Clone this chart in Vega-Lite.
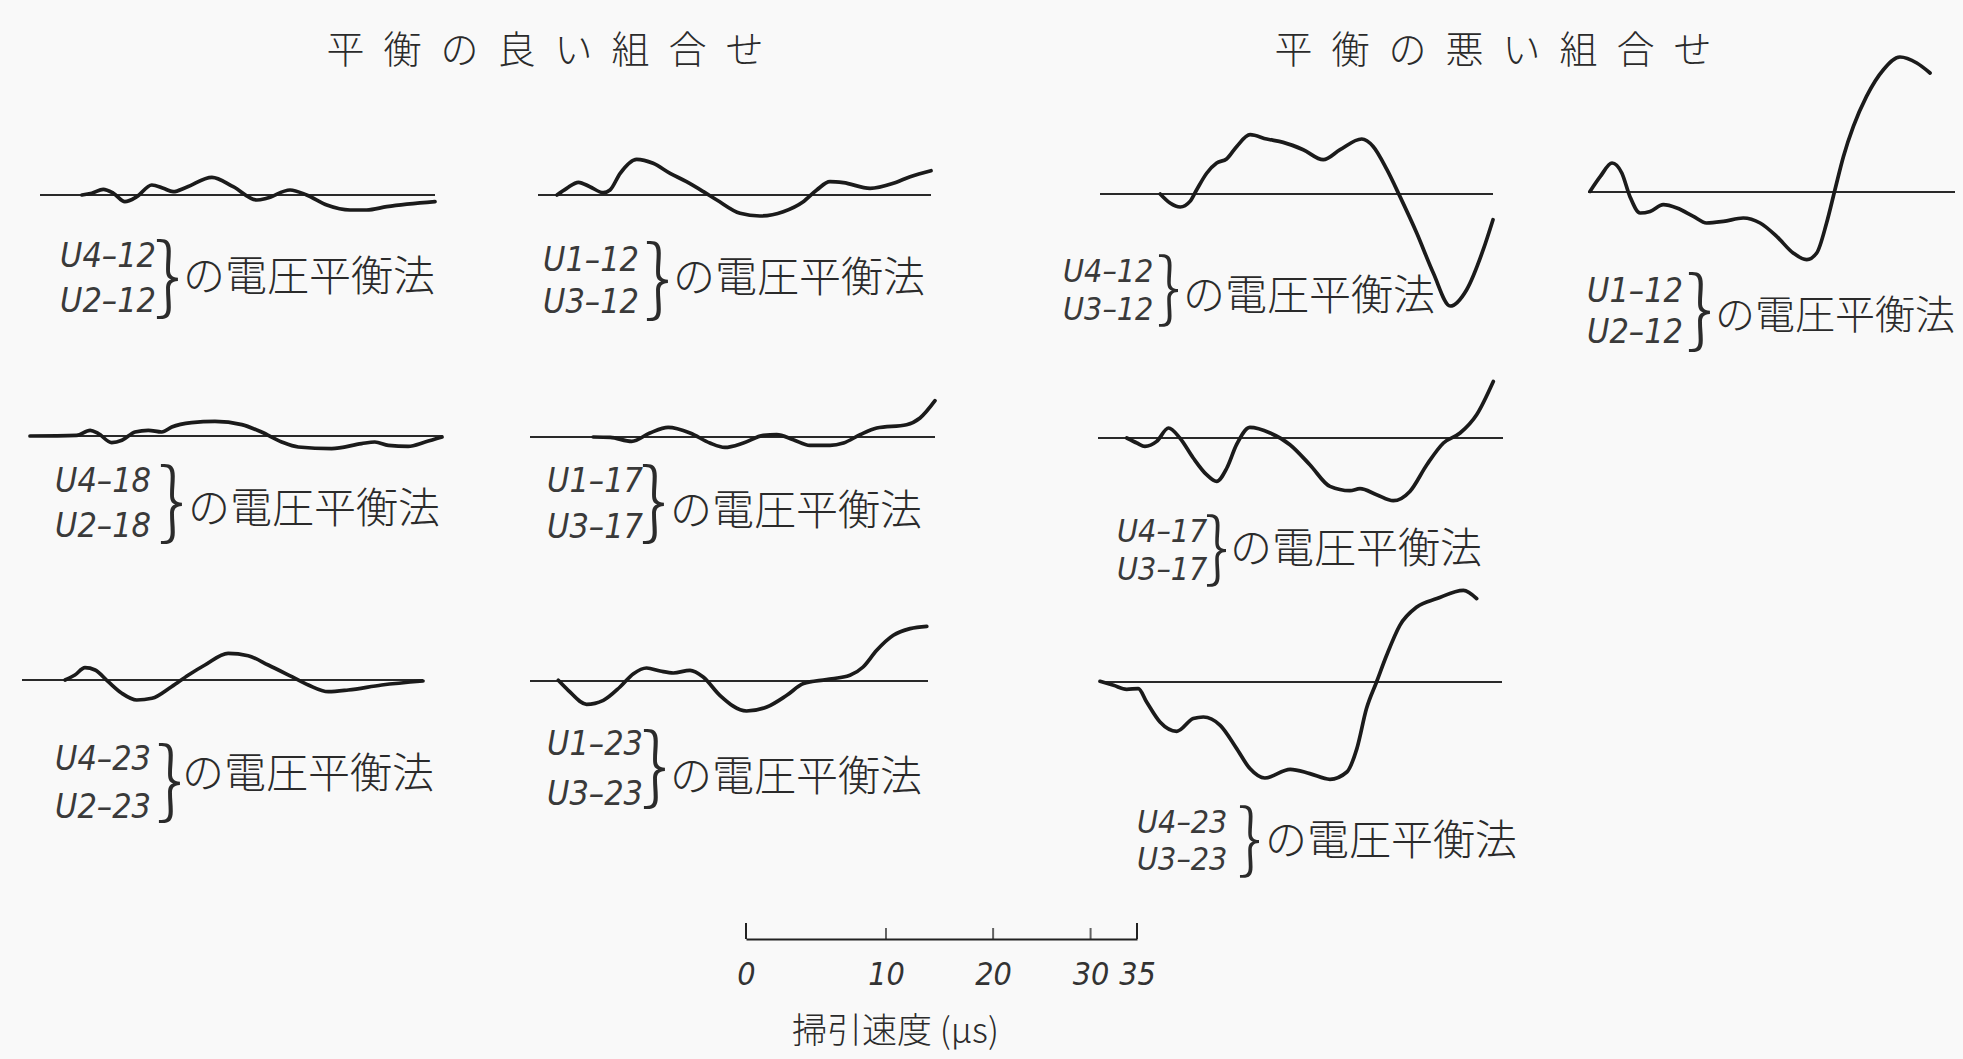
{
  "$schema": "https://vega.github.io/schema/vega-lite/v6.json",
  "background": "#f9f9f9",
  "padding": {"left": 0, "top": 0, "right": 0, "bottom": 14},
  "columns": 4,
  "spacing": 0,
  "bounds": "flush",
  "config": {
    "view": {"stroke": null},
    "concat": {"spacing": 0},
    "style": {
      "code": {"font": "'Liberation Sans Narrow', 'DejaVu Sans Condensed', 'Liberation Sans', sans-serif", "fontStyle": "italic", "fontSize": 34, "align": "left", "baseline": "middle", "color": "#3a3a3a"},
      "brace": {"font": "Noto Sans CJK JP", "fontWeight": 300, "fontSize": 84, "align": "center", "baseline": "middle", "color": "#2b2b2b"},
      "jp": {"font": "Noto Sans CJK JP", "fontSize": 42, "fontWeight": 300, "align": "left", "baseline": "middle", "color": "#2b2b2b"},
      "heading": {"font": "Noto Sans CJK JP", "fontSize": 38, "fontWeight": 300, "align": "center", "baseline": "middle", "color": "#2b2b2b"},
      "wave": {"color": "#1b1b1b", "strokeWidth": 3.7, "strokeCap": "round", "strokeJoin": "round"},
      "baseline0": {"color": "#2a2a2a", "strokeWidth": 1.8}
    }
  },
  "datasets": {
    "waves": [
      {"p": "U4-12/U2-12", "t": 2.27, "v": 0}, {"p": "U4-12/U2-12", "t": 2.94, "v": 1.7}, {"p": "U4-12/U2-12", "t": 3.75, "v": 5.7}, {"p": "U4-12/U2-12", "t": 4.5, "v": 1.7}, {"p": "U4-12/U2-12", "t": 5.37, "v": -6.7}, {"p": "U4-12/U2-12", "t": 6.3, "v": -1.7}, {"p": "U4-12/U2-12", "t": 7.51, "v": 10}, {"p": "U4-12/U2-12", "t": 8.46, "v": 6.7}, {"p": "U4-12/U2-12", "t": 9.29, "v": 3.3}, {"p": "U4-12/U2-12", "t": 10.44, "v": 7.7}, {"p": "U4-12/U2-12", "t": 12.69, "v": 17.7}, {"p": "U4-12/U2-12", "t": 14.63, "v": 8.3}, {"p": "U4-12/U2-12", "t": 16.84, "v": -5}, {"p": "U4-12/U2-12", "t": 17.78, "v": -3.3}, {"p": "U4-12/U2-12", "t": 20.04, "v": 5}, {"p": "U4-12/U2-12", "t": 21.67, "v": 0}, {"p": "U4-12/U2-12", "t": 23.69, "v": -10}, {"p": "U4-12/U2-12", "t": 26.05, "v": -15}, {"p": "U4-12/U2-12", "t": 27.76, "v": -15}, {"p": "U4-12/U2-12", "t": 29.86, "v": -11.7}, {"p": "U4-12/U2-12", "t": 35, "v": -6.7},

      {"p": "U4-18/U2-18", "t": 0, "v": 0}, {"p": "U4-18/U2-18", "t": 2.45, "v": 0.7}, {"p": "U4-18/U2-18", "t": 3.35, "v": 5.7}, {"p": "U4-18/U2-18", "t": 3.92, "v": 2.4}, {"p": "U4-18/U2-18", "t": 4.86, "v": -6.6}, {"p": "U4-18/U2-18", "t": 5.62, "v": -4.3}, {"p": "U4-18/U2-18", "t": 6.61, "v": 4}, {"p": "U4-18/U2-18", "t": 7.64, "v": 5.7}, {"p": "U4-18/U2-18", "t": 8.72, "v": 4}, {"p": "U4-18/U2-18", "t": 9.53, "v": 9}, {"p": "U4-18/U2-18", "t": 11.17, "v": 13.4}, {"p": "U4-18/U2-18", "t": 13.18, "v": 14.7}, {"p": "U4-18/U2-18", "t": 15.55, "v": 11.4}, {"p": "U4-18/U2-18", "t": 17.33, "v": 4}, {"p": "U4-18/U2-18", "t": 19.19, "v": -6}, {"p": "U4-18/U2-18", "t": 20.74, "v": -11}, {"p": "U4-18/U2-18", "t": 23.93, "v": -12.6}, {"p": "U4-18/U2-18", "t": 26.86, "v": -7.6}, {"p": "U4-18/U2-18", "t": 28.17, "v": -6}, {"p": "U4-18/U2-18", "t": 29.53, "v": -9.3}, {"p": "U4-18/U2-18", "t": 31.53, "v": -10.3}, {"p": "U4-18/U2-18", "t": 33.26, "v": -6}, {"p": "U4-18/U2-18", "t": 35, "v": -1},

      {"p": "U4-23/U2-23", "t": 2.3, "v": 0}, {"p": "U4-23/U2-23", "t": 2.96, "v": 5}, {"p": "U4-23/U2-23", "t": 3.66, "v": 12.3}, {"p": "U4-23/U2-23", "t": 4.39, "v": 10}, {"p": "U4-23/U2-23", "t": 5.37, "v": -1.7}, {"p": "U4-23/U2-23", "t": 6.42, "v": -13.3}, {"p": "U4-23/U2-23", "t": 7.61, "v": -20}, {"p": "U4-23/U2-23", "t": 8.86, "v": -18.3}, {"p": "U4-23/U2-23", "t": 10.51, "v": -6.7}, {"p": "U4-23/U2-23", "t": 11.98, "v": 5}, {"p": "U4-23/U2-23", "t": 13.44, "v": 15}, {"p": "U4-23/U2-23", "t": 15.55, "v": 26.7}, {"p": "U4-23/U2-23", "t": 17.41, "v": 24.3}, {"p": "U4-23/U2-23", "t": 19.31, "v": 15}, {"p": "U4-23/U2-23", "t": 21.59, "v": 3.3}, {"p": "U4-23/U2-23", "t": 23.21, "v": -5}, {"p": "U4-23/U2-23", "t": 25.21, "v": -11.7}, {"p": "U4-23/U2-23", "t": 27.23, "v": -10}, {"p": "U4-23/U2-23", "t": 30.66, "v": -5}, {"p": "U4-23/U2-23", "t": 35, "v": -1},

      {"p": "U1-12/U3-12", "t": 0.87, "v": 0}, {"p": "U1-12/U3-12", "t": 1.44, "v": 6.7}, {"p": "U1-12/U3-12", "t": 2.19, "v": 12.7}, {"p": "U1-12/U3-12", "t": 2.96, "v": 8.3}, {"p": "U1-12/U3-12", "t": 3.92, "v": 2.3}, {"p": "U1-12/U3-12", "t": 4.42, "v": 5}, {"p": "U1-12/U3-12", "t": 5.19, "v": 21.7}, {"p": "U1-12/U3-12", "t": 6.49, "v": 35.7}, {"p": "U1-12/U3-12", "t": 7.83, "v": 31.7}, {"p": "U1-12/U3-12", "t": 9.26, "v": 21.7}, {"p": "U1-12/U3-12", "t": 10.68, "v": 13.3}, {"p": "U1-12/U3-12", "t": 12.19, "v": 3.3}, {"p": "U1-12/U3-12", "t": 13.4, "v": -5}, {"p": "U1-12/U3-12", "t": 15.55, "v": -18.3}, {"p": "U1-12/U3-12", "t": 17.44, "v": -21}, {"p": "U1-12/U3-12", "t": 19.69, "v": -16.7}, {"p": "U1-12/U3-12", "t": 21.67, "v": -6.7}, {"p": "U1-12/U3-12", "t": 23.02, "v": 5}, {"p": "U1-12/U3-12", "t": 24.36, "v": 13.3}, {"p": "U1-12/U3-12", "t": 25.73, "v": 12.3}, {"p": "U1-12/U3-12", "t": 28.5, "v": 6.7}, {"p": "U1-12/U3-12", "t": 30.95, "v": 11.7}, {"p": "U1-12/U3-12", "t": 32.75, "v": 18.3}, {"p": "U1-12/U3-12", "t": 35, "v": 24.3},

      {"p": "U1-17/U3-17", "t": 3.63, "v": 0}, {"p": "U1-17/U3-17", "t": 4.86, "v": -0.4}, {"p": "U1-17/U3-17", "t": 6.49, "v": -4.4}, {"p": "U1-17/U3-17", "t": 7.93, "v": 4}, {"p": "U1-17/U3-17", "t": 9.43, "v": 9.6}, {"p": "U1-17/U3-17", "t": 11.28, "v": 4}, {"p": "U1-17/U3-17", "t": 13.01, "v": -6}, {"p": "U1-17/U3-17", "t": 14.34, "v": -10.4}, {"p": "U1-17/U3-17", "t": 16.02, "v": -6}, {"p": "U1-17/U3-17", "t": 17.86, "v": 1.6}, {"p": "U1-17/U3-17", "t": 19.12, "v": 2.3}, {"p": "U1-17/U3-17", "t": 20.7, "v": -2.7}, {"p": "U1-17/U3-17", "t": 22.3, "v": -8.4}, {"p": "U1-17/U3-17", "t": 24.28, "v": -8.4}, {"p": "U1-17/U3-17", "t": 25.61, "v": -6}, {"p": "U1-17/U3-17", "t": 27.27, "v": 2.3}, {"p": "U1-17/U3-17", "t": 28.96, "v": 9}, {"p": "U1-17/U3-17", "t": 32.03, "v": 12.3}, {"p": "U1-17/U3-17", "t": 33.43, "v": 19}, {"p": "U1-17/U3-17", "t": 35, "v": 36.3},

      {"p": "U1-23/U3-23", "t": 1.39, "v": 0.7}, {"p": "U1-23/U3-23", "t": 2.01, "v": -9.3}, {"p": "U1-23/U3-23", "t": 3.24, "v": -23.3}, {"p": "U1-23/U3-23", "t": 4.45, "v": -19.3}, {"p": "U1-23/U3-23", "t": 5.71, "v": -6}, {"p": "U1-23/U3-23", "t": 6.77, "v": 7.3}, {"p": "U1-23/U3-23", "t": 7.83, "v": 13}, {"p": "U1-23/U3-23", "t": 8.96, "v": 10}, {"p": "U1-23/U3-23", "t": 10.07, "v": 8}, {"p": "U1-23/U3-23", "t": 11.52, "v": 10.7}, {"p": "U1-23/U3-23", "t": 12.69, "v": 4}, {"p": "U1-23/U3-23", "t": 14.19, "v": -14.3}, {"p": "U1-23/U3-23", "t": 16.66, "v": -30}, {"p": "U1-23/U3-23", "t": 18.58, "v": -26}, {"p": "U1-23/U3-23", "t": 20.51, "v": -14.3}, {"p": "U1-23/U3-23", "t": 22.15, "v": -2.6}, {"p": "U1-23/U3-23", "t": 24.44, "v": 1.4}, {"p": "U1-23/U3-23", "t": 26.82, "v": 5.7}, {"p": "U1-23/U3-23", "t": 28.17, "v": 14}, {"p": "U1-23/U3-23", "t": 29.58, "v": 30.7}, {"p": "U1-23/U3-23", "t": 31.32, "v": 45.7}, {"p": "U1-23/U3-23", "t": 33.09, "v": 52.4}, {"p": "U1-23/U3-23", "t": 34.87, "v": 54.7},

      {"p": "U4-12/U3-12", "t": 3.55, "v": 0}, {"p": "U4-12/U3-12", "t": 4.27, "v": -9}, {"p": "U4-12/U3-12", "t": 5.04, "v": -13}, {"p": "U4-12/U3-12", "t": 5.8, "v": -7.4}, {"p": "U4-12/U3-12", "t": 6.33, "v": 4.3}, {"p": "U4-12/U3-12", "t": 7.15, "v": 21}, {"p": "U4-12/U3-12", "t": 7.96, "v": 31}, {"p": "U4-12/U3-12", "t": 8.79, "v": 35}, {"p": "U4-12/U3-12", "t": 9.66, "v": 47.6}, {"p": "U4-12/U3-12", "t": 10.82, "v": 59.3}, {"p": "U4-12/U3-12", "t": 12.3, "v": 55}, {"p": "U4-12/U3-12", "t": 13.8, "v": 51.6}, {"p": "U4-12/U3-12", "t": 15.66, "v": 44.3}, {"p": "U4-12/U3-12", "t": 17.56, "v": 34.3}, {"p": "U4-12/U3-12", "t": 19.19, "v": 44.3}, {"p": "U4-12/U3-12", "t": 21.32, "v": 55}, {"p": "U4-12/U3-12", "t": 22.46, "v": 47.6}, {"p": "U4-12/U3-12", "t": 23.85, "v": 24.3}, {"p": "U4-12/U3-12", "t": 25.17, "v": -2.4}, {"p": "U4-12/U3-12", "t": 26.9, "v": -39}, {"p": "U4-12/U3-12", "t": 28.63, "v": -79}, {"p": "U4-12/U3-12", "t": 30.41, "v": -112}, {"p": "U4-12/U3-12", "t": 32.16, "v": -95.7}, {"p": "U4-12/U3-12", "t": 33.94, "v": -55.7}, {"p": "U4-12/U3-12", "t": 35, "v": -25.7},

      {"p": "U4-17/U3-17", "t": 1.39, "v": 0}, {"p": "U4-17/U3-17", "t": 2.01, "v": -5}, {"p": "U4-17/U3-17", "t": 2.53, "v": -8.4}, {"p": "U4-17/U3-17", "t": 3.32, "v": -3.4}, {"p": "U4-17/U3-17", "t": 4.15, "v": 10}, {"p": "U4-17/U3-17", "t": 4.98, "v": 0}, {"p": "U4-17/U3-17", "t": 5.99, "v": -20}, {"p": "U4-17/U3-17", "t": 7.03, "v": -36.7}, {"p": "U4-17/U3-17", "t": 7.83, "v": -43.4}, {"p": "U4-17/U3-17", "t": 8.66, "v": -30}, {"p": "U4-17/U3-17", "t": 9.46, "v": -6.7}, {"p": "U4-17/U3-17", "t": 10.58, "v": 10.6}, {"p": "U4-17/U3-17", "t": 12.33, "v": 5}, {"p": "U4-17/U3-17", "t": 14.08, "v": -6.7}, {"p": "U4-17/U3-17", "t": 15.88, "v": -26.7}, {"p": "U4-17/U3-17", "t": 17.74, "v": -48.4}, {"p": "U4-17/U3-17", "t": 19.61, "v": -52.7}, {"p": "U4-17/U3-17", "t": 20.58, "v": -50.7}, {"p": "U4-17/U3-17", "t": 22.18, "v": -56.7}, {"p": "U4-17/U3-17", "t": 23.81, "v": -62.7}, {"p": "U4-17/U3-17", "t": 25.45, "v": -53.4}, {"p": "U4-17/U3-17", "t": 27.15, "v": -26.7}, {"p": "U4-17/U3-17", "t": 28.83, "v": -5}, {"p": "U4-17/U3-17", "t": 30.53, "v": 5}, {"p": "U4-17/U3-17", "t": 32.24, "v": 23.3}, {"p": "U4-17/U3-17", "t": 33.98, "v": 56.6},

      {"p": "U4-23/U3-23", "t": 0, "v": 0.7}, {"p": "U4-23/U3-23", "t": 0.56, "v": -3.3}, {"p": "U4-23/U3-23", "t": 1.28, "v": -7.3}, {"p": "U4-23/U3-23", "t": 1.99, "v": -6.6}, {"p": "U4-23/U3-23", "t": 2.53, "v": -20}, {"p": "U4-23/U3-23", "t": 3.44, "v": -40}, {"p": "U4-23/U3-23", "t": 4.65, "v": -49.3}, {"p": "U4-23/U3-23", "t": 5.89, "v": -36.6}, {"p": "U4-23/U3-23", "t": 6.68, "v": -35}, {"p": "U4-23/U3-23", "t": 8.03, "v": -43.3}, {"p": "U4-23/U3-23", "t": 9.39, "v": -66.6}, {"p": "U4-23/U3-23", "t": 10.51, "v": -86.6}, {"p": "U4-23/U3-23", "t": 11.8, "v": -96}, {"p": "U4-23/U3-23", "t": 14.05, "v": -87.3}, {"p": "U4-23/U3-23", "t": 15.84, "v": -91.6}, {"p": "U4-23/U3-23", "t": 17.71, "v": -97.3}, {"p": "U4-23/U3-23", "t": 19.31, "v": -90}, {"p": "U4-23/U3-23", "t": 20.27, "v": -66.6}, {"p": "U4-23/U3-23", "t": 21.2, "v": -26.6}, {"p": "U4-23/U3-23", "t": 22.18, "v": 0}, {"p": "U4-23/U3-23", "t": 23.17, "v": 26.7}, {"p": "U4-23/U3-23", "t": 24.48, "v": 56.7}, {"p": "U4-23/U3-23", "t": 26.18, "v": 75}, {"p": "U4-23/U3-23", "t": 28.22, "v": 83.4}, {"p": "U4-23/U3-23", "t": 30.95, "v": 91.7}, {"p": "U4-23/U3-23", "t": 32.33, "v": 83.4},

      {"p": "U1-12/U2-12", "t": 0.06, "v": 0.6}, {"p": "U1-12/U2-12", "t": 0.56, "v": 15.6}, {"p": "U1-12/U2-12", "t": 1.26, "v": 29}, {"p": "U1-12/U2-12", "t": 1.91, "v": 19}, {"p": "U1-12/U2-12", "t": 2.48, "v": -4.4}, {"p": "U1-12/U2-12", "t": 3.24, "v": -21}, {"p": "U1-12/U2-12", "t": 4.01, "v": -19.4}, {"p": "U1-12/U2-12", "t": 5.07, "v": -12.7}, {"p": "U1-12/U2-12", "t": 6.21, "v": -16}, {"p": "U1-12/U2-12", "t": 7.64, "v": -24.4}, {"p": "U1-12/U2-12", "t": 8.82, "v": -31}, {"p": "U1-12/U2-12", "t": 10.38, "v": -29.4}, {"p": "U1-12/U2-12", "t": 12.26, "v": -26}, {"p": "U1-12/U2-12", "t": 13.9, "v": -31}, {"p": "U1-12/U2-12", "t": 15.55, "v": -44.4}, {"p": "U1-12/U2-12", "t": 17.22, "v": -61}, {"p": "U1-12/U2-12", "t": 18.62, "v": -67.7}, {"p": "U1-12/U2-12", "t": 19.66, "v": -61}, {"p": "U1-12/U2-12", "t": 20.7, "v": -31}, {"p": "U1-12/U2-12", "t": 21.59, "v": 2.3}, {"p": "U1-12/U2-12", "t": 22.5, "v": 35.6}, {"p": "U1-12/U2-12", "t": 23.57, "v": 65.6}, {"p": "U1-12/U2-12", "t": 25.0, "v": 95.6}, {"p": "U1-12/U2-12", "t": 26.86, "v": 122.3}, {"p": "U1-12/U2-12", "t": 28.71, "v": 135}, {"p": "U1-12/U2-12", "t": 30.61, "v": 129}, {"p": "U1-12/U2-12", "t": 32.12, "v": 119}
    ]
  },
  "concat": [
    {
      "width": 480, "height": 345,
      "layer": [
        {"data": {"values": [{}]}, "mark": {"type": "rule", "style": "baseline0"}, "encoding": {"x": {"datum": 0, "axis": null}, "x2": {"datum": 35}, "y": {"datum": 0, "axis": null}}},
        {"data": {"name": "waves"}, "transform": [{"filter": "datum.p == 'U4-12/U2-12'"}], "mark": {"type": "line", "style": "wave", "interpolate": "monotone"},
         "encoding": {
           "x": {"field": "t", "type": "quantitative", "scale": {"type": "pow", "exponent": 0.82, "domain": [0, 35], "range": [40, 435]}, "axis": null},
           "y": {"field": "v", "type": "quantitative", "scale": {"domain": [-150, 195], "nice": false, "zero": false}, "axis": null}}},
        {"data": {"values": [{"g": "平衡の良い組合せ"}]}, "transform": [{"calculate": "join(split(datum.g, ''), '\u2002')", "as": "spaced"}], "mark": {"type": "text", "style": "heading", "dx": 505}, "encoding": {"x": {"datum": 0, "axis": null}, "y": {"datum": 143, "axis": null}, "text": {"field": "spaced", "type": "nominal"}}},
        {"data": {"values": [{}]}, "mark": {"type": "text", "style": "code", "text": ["U4–12", "U2–12"], "lineHeight": 45, "dx": 20}, "encoding": {"x": {"datum": 0, "axis": null}, "y": {"datum": -62, "axis": null}}},
        {"data": {"values": [{}]}, "mark": {"type": "text", "style": "brace", "text": "}", "dx": 128}, "encoding": {"x": {"datum": 0, "axis": null}, "y": {"datum": -85, "axis": null}}},
        {"data": {"values": [{}]}, "mark": {"type": "text", "style": "jp", "text": "の電圧平衡法", "dx": 143}, "encoding": {"x": {"datum": 0, "axis": null}, "y": {"datum": -83, "axis": null}}}
      ]
    },
    {
      "width": 480, "height": 345,
      "layer": [
        {"data": {"values": [{}]}, "mark": {"type": "rule", "style": "baseline0"}, "encoding": {"x": {"datum": 0, "axis": null}, "x2": {"datum": 35}, "y": {"datum": 0, "axis": null}}},
        {"data": {"name": "waves"}, "transform": [{"filter": "datum.p == 'U1-12/U3-12'"}], "mark": {"type": "line", "style": "wave", "interpolate": "monotone"},
         "encoding": {
           "x": {"field": "t", "type": "quantitative", "scale": {"type": "pow", "exponent": 0.82, "domain": [0, 35], "range": [58, 451]}, "axis": null},
           "y": {"field": "v", "type": "quantitative", "scale": {"domain": [-150, 195], "nice": false, "zero": false}, "axis": null}}},
        {"data": {"values": [{}]}, "mark": {"type": "text", "style": "code", "text": ["U1–12", "U3–12"], "lineHeight": 42, "dx": 5}, "encoding": {"x": {"datum": 0, "axis": null}, "y": {"datum": -66, "axis": null}}},
        {"data": {"values": [{}]}, "mark": {"type": "text", "style": "brace", "text": "}", "dx": 120}, "encoding": {"x": {"datum": 0, "axis": null}, "y": {"datum": -87, "axis": null}}},
        {"data": {"values": [{}]}, "mark": {"type": "text", "style": "jp", "text": "の電圧平衡法", "dx": 135}, "encoding": {"x": {"datum": 0, "axis": null}, "y": {"datum": -84, "axis": null}}}
      ]
    },
    {
      "width": 580, "height": 345,
      "layer": [
        {"data": {"values": [{}]}, "mark": {"type": "rule", "style": "baseline0"}, "encoding": {"x": {"datum": 0, "axis": null}, "x2": {"datum": 35}, "y": {"datum": 0, "axis": null}}},
        {"data": {"name": "waves"}, "transform": [{"filter": "datum.p == 'U4-12/U3-12'"}], "mark": {"type": "line", "style": "wave", "interpolate": "monotone"},
         "encoding": {
           "x": {"field": "t", "type": "quantitative", "scale": {"type": "pow", "exponent": 0.82, "domain": [0, 35], "range": [140, 533]}, "axis": null},
           "y": {"field": "v", "type": "quantitative", "scale": {"domain": [-151, 194], "nice": false, "zero": false}, "axis": null}}},
        {"data": {"values": [{"g": "平衡の悪い組合せ"}]}, "transform": [{"calculate": "join(split(datum.g, ''), '\u2002')", "as": "spaced"}], "mark": {"type": "text", "style": "heading", "dx": 393}, "encoding": {"x": {"datum": 0, "axis": null}, "y": {"datum": 142, "axis": null}, "text": {"field": "spaced", "type": "nominal"}}},
        {"data": {"values": [{}]}, "mark": {"type": "text", "style": "code", "text": ["U4–12", "U3–12"], "lineHeight": 38, "fontSize": 32, "dx": -37}, "encoding": {"x": {"datum": 0, "axis": null}, "y": {"datum": -78, "axis": null}}},
        {"data": {"values": [{}]}, "mark": {"type": "text", "style": "brace", "text": "}", "fontSize": 76, "dx": 69}, "encoding": {"x": {"datum": 0, "axis": null}, "y": {"datum": -97, "axis": null}}},
        {"data": {"values": [{}]}, "mark": {"type": "text", "style": "jp", "text": "の電圧平衡法", "dx": 83}, "encoding": {"x": {"datum": 0, "axis": null}, "y": {"datum": -103, "axis": null}}}
      ]
    },
    {
      "width": 423, "height": 345,
      "layer": [
        {"data": {"values": [{}]}, "mark": {"type": "rule", "style": "baseline0"}, "encoding": {"x": {"datum": 0, "axis": null}, "x2": {"datum": 35}, "y": {"datum": 0, "axis": null}}},
        {"data": {"name": "waves"}, "transform": [{"filter": "datum.p == 'U1-12/U2-12'"}], "mark": {"type": "line", "style": "wave", "interpolate": "monotone"},
         "encoding": {
           "x": {"field": "t", "type": "quantitative", "scale": {"type": "pow", "exponent": 0.82, "domain": [0, 35], "range": [48, 415]}, "axis": null},
           "y": {"field": "v", "type": "quantitative", "scale": {"domain": [-153, 192], "nice": false, "zero": false}, "axis": null}}},
        {"data": {"values": [{}]}, "mark": {"type": "text", "style": "code", "text": ["U1–12", "U2–12"], "lineHeight": 41, "dx": -1}, "encoding": {"x": {"datum": 0, "axis": null}, "y": {"datum": -100, "axis": null}}},
        {"data": {"values": [{}]}, "mark": {"type": "text", "style": "brace", "text": "}", "dx": 112}, "encoding": {"x": {"datum": 0, "axis": null}, "y": {"datum": -121, "axis": null}}},
        {"data": {"values": [{}]}, "mark": {"type": "text", "style": "jp", "text": "の電圧平衡法", "fontSize": 40, "dx": 127}, "encoding": {"x": {"datum": 0, "axis": null}, "y": {"datum": -125, "axis": null}}}
      ]
    },

    {
      "width": 480, "height": 245,
      "layer": [
        {"data": {"values": [{}]}, "mark": {"type": "rule", "style": "baseline0"}, "encoding": {"x": {"datum": 0, "axis": null}, "x2": {"datum": 35}, "y": {"datum": 0, "axis": null}}},
        {"data": {"name": "waves"}, "transform": [{"filter": "datum.p == 'U4-18/U2-18'"}], "mark": {"type": "line", "style": "wave", "interpolate": "monotone"},
         "encoding": {
           "x": {"field": "t", "type": "quantitative", "scale": {"type": "pow", "exponent": 0.82, "domain": [0, 35], "range": [30, 442]}, "axis": null},
           "y": {"field": "v", "type": "quantitative", "scale": {"domain": [-154, 91], "nice": false, "zero": false}, "axis": null}}},
        {"data": {"values": [{}]}, "mark": {"type": "text", "style": "code", "text": ["U4–18", "U2–18"], "lineHeight": 45, "dx": 25}, "encoding": {"x": {"datum": 0, "axis": null}, "y": {"datum": -46, "axis": null}}},
        {"data": {"values": [{}]}, "mark": {"type": "text", "style": "brace", "text": "}", "dx": 142}, "encoding": {"x": {"datum": 0, "axis": null}, "y": {"datum": -69, "axis": null}}},
        {"data": {"values": [{}]}, "mark": {"type": "text", "style": "jp", "text": "の電圧平衡法", "dx": 158}, "encoding": {"x": {"datum": 0, "axis": null}, "y": {"datum": -74, "axis": null}}}
      ]
    },
    {
      "width": 480, "height": 245,
      "layer": [
        {"data": {"values": [{}]}, "mark": {"type": "rule", "style": "baseline0"}, "encoding": {"x": {"datum": 0, "axis": null}, "x2": {"datum": 35}, "y": {"datum": 0, "axis": null}}},
        {"data": {"name": "waves"}, "transform": [{"filter": "datum.p == 'U1-17/U3-17'"}], "mark": {"type": "line", "style": "wave", "interpolate": "monotone"},
         "encoding": {
           "x": {"field": "t", "type": "quantitative", "scale": {"type": "pow", "exponent": 0.82, "domain": [0, 35], "range": [50, 455]}, "axis": null},
           "y": {"field": "v", "type": "quantitative", "scale": {"domain": [-153, 92], "nice": false, "zero": false}, "axis": null}}},
        {"data": {"values": [{}]}, "mark": {"type": "text", "style": "code", "text": ["U1–17", "U3–17"], "lineHeight": 46, "dx": 17}, "encoding": {"x": {"datum": 0, "axis": null}, "y": {"datum": -45, "axis": null}}},
        {"data": {"values": [{}]}, "mark": {"type": "text", "style": "brace", "text": "}", "dx": 124}, "encoding": {"x": {"datum": 0, "axis": null}, "y": {"datum": -68, "axis": null}}},
        {"data": {"values": [{}]}, "mark": {"type": "text", "style": "jp", "text": "の電圧平衡法", "dx": 140}, "encoding": {"x": {"datum": 0, "axis": null}, "y": {"datum": -75, "axis": null}}}
      ]
    },
    {
      "width": 580, "height": 245,
      "layer": [
        {"data": {"values": [{}]}, "mark": {"type": "rule", "style": "baseline0"}, "encoding": {"x": {"datum": 0, "axis": null}, "x2": {"datum": 35}, "y": {"datum": 0, "axis": null}}},
        {"data": {"name": "waves"}, "transform": [{"filter": "datum.p == 'U4-17/U3-17'"}], "mark": {"type": "line", "style": "wave", "interpolate": "monotone"},
         "encoding": {
           "x": {"field": "t", "type": "quantitative", "scale": {"type": "pow", "exponent": 0.82, "domain": [0, 35], "range": [138, 543]}, "axis": null},
           "y": {"field": "v", "type": "quantitative", "scale": {"domain": [-152, 93], "nice": false, "zero": false}, "axis": null}}},
        {"data": {"values": [{}]}, "mark": {"type": "text", "style": "code", "text": ["U4–17", "U3–17"], "lineHeight": 38, "fontSize": 32, "dx": 19}, "encoding": {"x": {"datum": 0, "axis": null}, "y": {"datum": -94, "axis": null}}},
        {"data": {"values": [{}]}, "mark": {"type": "text", "style": "brace", "text": "}", "fontSize": 76, "dx": 119}, "encoding": {"x": {"datum": 0, "axis": null}, "y": {"datum": -113, "axis": null}}},
        {"data": {"values": [{}]}, "mark": {"type": "text", "style": "jp", "text": "の電圧平衡法", "dx": 132}, "encoding": {"x": {"datum": 0, "axis": null}, "y": {"datum": -112, "axis": null}}}
      ]
    },
    {"width": 423, "height": 245, "data": {"values": [{}]}, "mark": {"type": "text", "text": ""}, "encoding": {}},

    {
      "width": 480, "height": 333,
      "layer": [
        {"data": {"values": [{}]}, "mark": {"type": "rule", "style": "baseline0"}, "encoding": {"x": {"datum": 0, "axis": null}, "x2": {"datum": 35}, "y": {"datum": 0, "axis": null}}},
        {"data": {"name": "waves"}, "transform": [{"filter": "datum.p == 'U4-23/U2-23'"}], "mark": {"type": "line", "style": "wave", "interpolate": "monotone"},
         "encoding": {
           "x": {"field": "t", "type": "quantitative", "scale": {"type": "pow", "exponent": 0.82, "domain": [0, 35], "range": [22, 423]}, "axis": null},
           "y": {"field": "v", "type": "quantitative", "scale": {"domain": [-243, 90], "nice": false, "zero": false}, "axis": null}}},
        {"data": {"values": [{}]}, "mark": {"type": "text", "style": "code", "text": ["U4–23", "U2–23"], "lineHeight": 48, "dx": 33}, "encoding": {"x": {"datum": 0, "axis": null}, "y": {"datum": -80, "axis": null}}},
        {"data": {"values": [{}]}, "mark": {"type": "text", "style": "brace", "text": "}", "dx": 148}, "encoding": {"x": {"datum": 0, "axis": null}, "y": {"datum": -104, "axis": null}}},
        {"data": {"values": [{}]}, "mark": {"type": "text", "style": "jp", "text": "の電圧平衡法", "dx": 160}, "encoding": {"x": {"datum": 0, "axis": null}, "y": {"datum": -95, "axis": null}}}
      ]
    },
    {
      "width": 480, "height": 333,
      "layer": [
        {"data": {"values": [{}]}, "mark": {"type": "rule", "style": "baseline0"}, "encoding": {"x": {"datum": 0, "axis": null}, "x2": {"datum": 35}, "y": {"datum": 0, "axis": null}}},
        {"data": {"name": "waves"}, "transform": [{"filter": "datum.p == 'U1-23/U3-23'"}], "mark": {"type": "line", "style": "wave", "interpolate": "monotone"},
         "encoding": {
           "x": {"field": "t", "type": "quantitative", "scale": {"type": "pow", "exponent": 0.82, "domain": [0, 35], "range": [50, 448]}, "axis": null},
           "y": {"field": "v", "type": "quantitative", "scale": {"domain": [-242, 91], "nice": false, "zero": false}, "axis": null}}},
        {"data": {"values": [{}]}, "mark": {"type": "text", "style": "code", "text": ["U1–23", "U3–23"], "lineHeight": 50, "dx": 17}, "encoding": {"x": {"datum": 0, "axis": null}, "y": {"datum": -64, "axis": null}}},
        {"data": {"values": [{}]}, "mark": {"type": "text", "style": "brace", "text": "}", "dx": 125}, "encoding": {"x": {"datum": 0, "axis": null}, "y": {"datum": -89, "axis": null}}},
        {"data": {"values": [{}]}, "mark": {"type": "text", "style": "jp", "text": "の電圧平衡法", "dx": 140}, "encoding": {"x": {"datum": 0, "axis": null}, "y": {"datum": -97, "axis": null}}}
      ]
    },
    {
      "width": 580, "height": 333,
      "layer": [
        {"data": {"values": [{}]}, "mark": {"type": "rule", "style": "baseline0"}, "encoding": {"x": {"datum": 0, "axis": null}, "x2": {"datum": 35}, "y": {"datum": 0, "axis": null}}},
        {"data": {"name": "waves"}, "transform": [{"filter": "datum.p == 'U4-23/U3-23'"}], "mark": {"type": "line", "style": "wave", "interpolate": "monotone"},
         "encoding": {
           "x": {"field": "t", "type": "quantitative", "scale": {"type": "pow", "exponent": 0.82, "domain": [0, 35], "range": [140, 542]}, "axis": null},
           "y": {"field": "v", "type": "quantitative", "scale": {"domain": [-241, 92], "nice": false, "zero": false}, "axis": null}}},
        {"data": {"values": [{}]}, "mark": {"type": "text", "style": "code", "text": ["U4–23", "U3–23"], "lineHeight": 37, "fontSize": 32, "dx": 37}, "encoding": {"x": {"datum": 0, "axis": null}, "y": {"datum": -141, "axis": null}}},
        {"data": {"values": [{}]}, "mark": {"type": "text", "style": "brace", "text": "}", "fontSize": 76, "dx": 150}, "encoding": {"x": {"datum": 0, "axis": null}, "y": {"datum": -160, "axis": null}}},
        {"data": {"values": [{}]}, "mark": {"type": "text", "style": "jp", "text": "の電圧平衡法", "dx": 165}, "encoding": {"x": {"datum": 0, "axis": null}, "y": {"datum": -160, "axis": null}}}
      ]
    },
    {"width": 423, "height": 333, "data": {"values": [{}]}, "mark": {"type": "text", "text": ""}, "encoding": {}},

    {
      "width": 480,
      "height": 16,
      "data": {"values": [{"t": 0}, {"t": 10}, {"t": 20}, {"t": 30}, {"t": 35}]},
      "encoding": {
        "x": {
          "field": "t", "type": "quantitative",
          "scale": {"type": "pow", "exponent": 0.82, "domain": [0, 35], "range": [746, 1137]},
          "axis": {
            "orient": "bottom", "values": [0, 10, 20, 30, 35], "grid": false,
            "domain": true, "domainColor": "#222222", "domainWidth": 2,
            "ticks": false,
            "labelFont": "'Liberation Sans Narrow', 'DejaVu Sans Condensed', 'Liberation Sans', sans-serif",
            "labelFontStyle": "italic", "labelFontSize": 32, "labelColor": "#333333",
            "labelBaseline": "middle", "labelPadding": 35, "labelFlush": false, "labelOverlap": false,
            "title": "掃引速度 (μs)", "titleFont": "Noto Sans CJK JP", "titleFontSize": 35, "titleFontWeight": 300,
            "titleColor": "#2b2b2b", "titleX": 895, "titleY": 92, "titleBaseline": "middle", "titleAlign": "center"
          }
        }
      },
      "layer": [
        {"transform": [{"filter": "datum.t == 0 || datum.t == 35"}], "mark": {"type": "rule", "color": "#222222", "strokeWidth": 2}},
        {"transform": [{"filter": "datum.t > 0 && datum.t < 35"}], "mark": {"type": "tick", "color": "#222222", "thickness": 2, "size": 11, "yOffset": 2.5}}
      ]
    }
  ]
}
